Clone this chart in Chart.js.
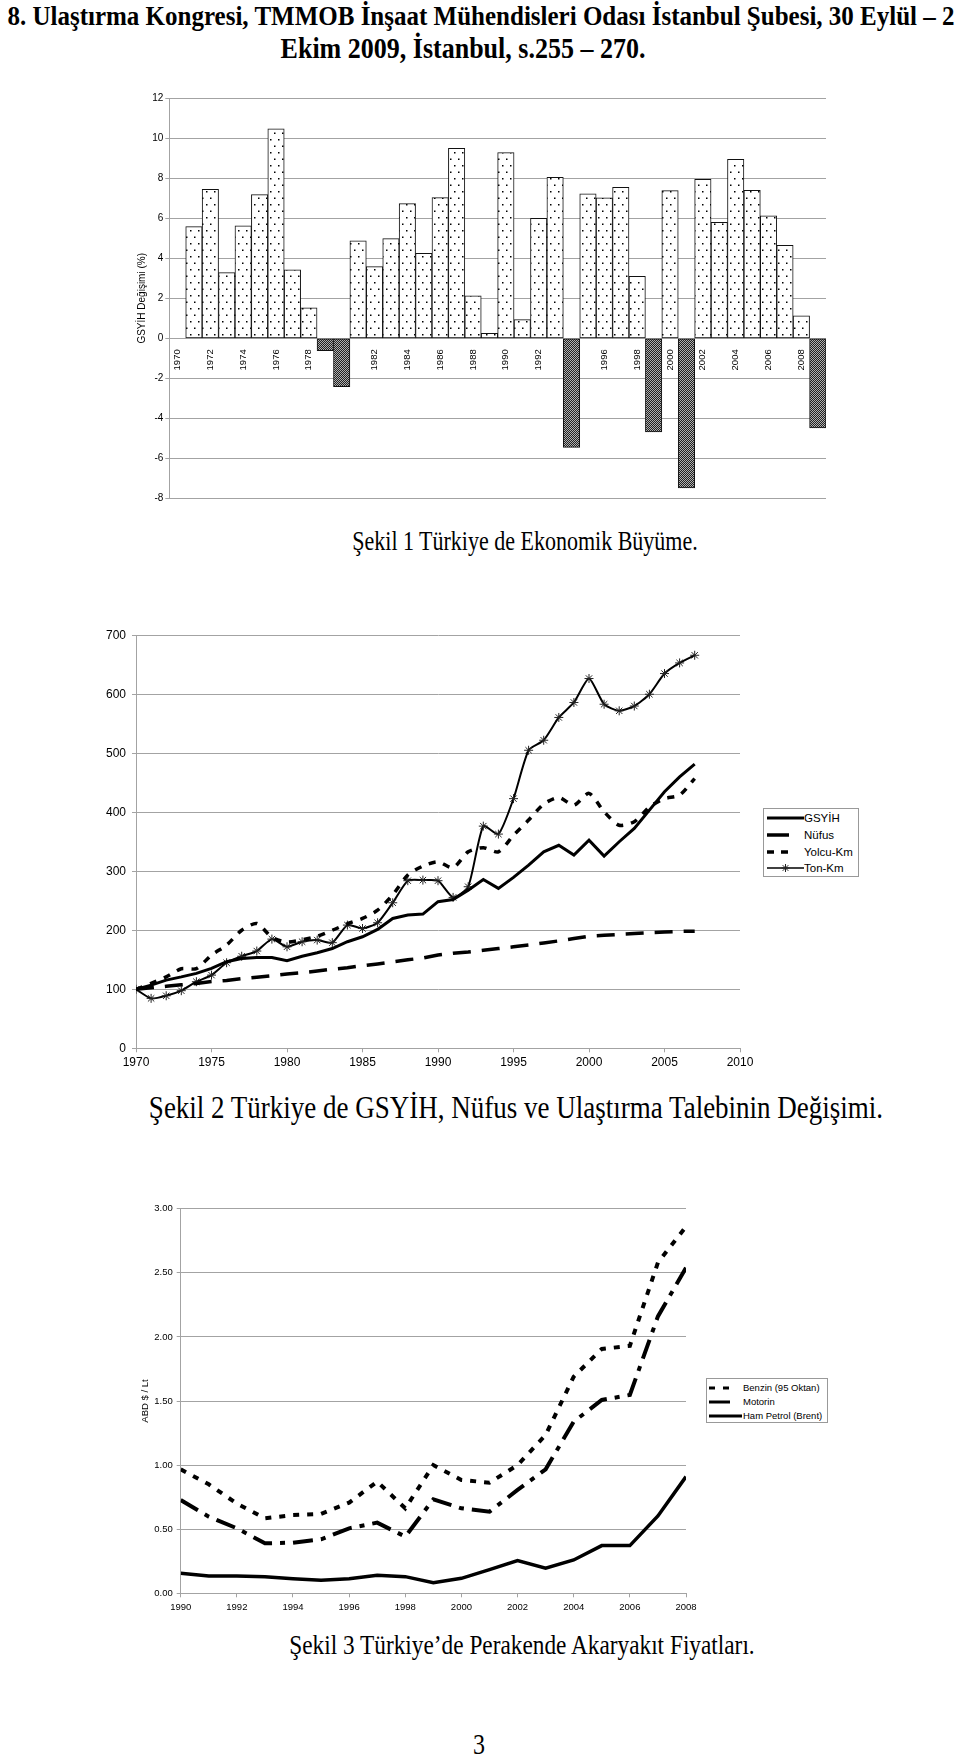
<!DOCTYPE html>
<html>
<head>
<meta charset="utf-8">
<script src="https://cdn.jsdelivr.net/npm/chart.js@4.4.1/dist/chart.umd.min.js"></script>
<style>
body { margin:0; width:960px; height:1761px; background:#fff; position:relative; overflow:hidden; font-family:"Liberation Sans", Arial, sans-serif; }
canvas { position:absolute; }
.serif { position:absolute; font-family:"Liberation Serif","Times New Roman",serif; white-space:nowrap; text-align:center; transform:scaleY(1.25); transform-origin:top; color:#000; font-size:22px; line-height:22px; width:1000px; }
.legend { position:absolute; border:1px solid #999; background:#fff; color:#000; }
.legend .row { position:absolute; left:0; white-space:nowrap; }
</style>
</head>
<body>
<div class="serif" style="left:-19px;top:1px;font-weight:bold;font-size:25px;line-height:25px;transform:scaleY(1.12)">8. Ulaştırma Kongresi, TMMOB İnşaat Mühendisleri Odası İstanbul Şubesi, 30 Eylül – 2</div>
<div class="serif" style="left:-37px;top:35px;font-weight:bold;font-size:26px;line-height:26px;transform:scaleY(1.1)">Ekim 2009, İstanbul, s.255 – 270.</div>

<canvas id="c1" width="740" height="425" style="left:100px;top:85px"></canvas>
<div class="serif" style="left:25px;top:527px">Şekil 1 Türkiye de Ekonomik Büyüme.</div>

<canvas id="c2" width="820" height="453" style="left:60px;top:622px"></canvas>
<div class="legend" id="leg2" style="left:763px;top:808px;width:94px;height:67px;font-size:11.5px"></div>
<div class="serif" style="left:16px;top:1093px;font-size:27px;line-height:27px;transform:scaleY(1.15)">Şekil 2 Türkiye de GSYİH, Nüfus ve Ulaştırma Talebinin Değişimi.</div>

<canvas id="c3" width="800" height="425" style="left:90px;top:1195px"></canvas>
<div class="legend" id="leg3" style="left:706px;top:1378px;width:120px;height:43px;font-size:9.5px"></div>
<div class="serif" style="left:22px;top:1631px;font-size:23.3px;line-height:23.3px;transform:scaleY(1.2)">Şekil 3 Türkiye’de Perakende Akaryakıt Fiyatları.</div>

<div class="serif" style="left:-21px;top:1729px;font-size:24px;line-height:24px">3</div>

<script>
// ---- Şekil 1: GSYİH değişimi (%) ----
const years1 = ['1970','1971','1972','1973','1974','1975','1976','1977','1978','1979',
  '1980','1981','1982','1983','1984','1985','1986','1987','1988','1989',
  '1990','1991','1992','1993','1994','1995','1996','1997','1998','1999',
  '2000','2001','2002','2003','2004','2005','2006','2007','2008','2009'];
const growth = [null, 5.58, 7.45, 3.28, 5.62, 7.18, 10.47, 3.42, 1.52, -0.62,
  -2.42, 4.87, 3.58, 4.98, 6.73, 4.25, 7.03, 9.5, 2.12, 0.25,
  9.28, 0.93, 6.0, 8.05, -5.45, 7.22, 7.02, 7.55, 3.1, -4.68,
  7.38, -7.48, 7.95, 5.8, 8.95, 7.4, 6.12, 4.65, 1.12, -4.48];

// ---- Şekil 2: endeks (1970 = 100) ----
const years2 = [1970,1971,1972,1973,1974,1975,1976,1977,1978,1979,
  1980,1981,1982,1983,1984,1985,1986,1987,1988,1989,
  1990,1991,1992,1993,1994,1995,1996,1997,1998,1999,
  2000,2001,2002,2003,2004,2005,2006,2007];
const gsyih = [100, 107, 115.6, 121, 127, 135.5, 146.7, 152, 154, 154,
  148.4, 156, 162, 169, 180.6, 189, 201.5, 220, 225.7, 227.5,
  248.4, 252, 268, 286, 271, 289.6, 310.5, 333, 344, 327.4,
  352.8, 325.7, 350, 372.6, 403.6, 434.7, 460, 481.5];
const nufus = [100, 102.5, 105, 107.5, 110, 113, 115, 118, 120.5, 123,
  126, 128, 131, 134, 136.5, 140, 143, 146.5, 150, 153,
  158, 161, 163, 166, 169, 172, 175, 178.5, 182, 186,
  190, 191.5, 193, 194.5, 196, 197, 198, 198.5];
const yolcuKm = [100, 110, 121, 134.8, 135, 158, 175, 200, 211.5, 188,
  180, 184, 190, 200, 211, 220, 234, 260, 293.6, 308.8,
  316, 306, 333, 340, 333, 361, 386.7, 413.8, 425, 412,
  432, 400.8, 378, 384, 409, 423, 429, 457];
const tonKm = [100, 84.6, 89, 97.6, 112.8, 124, 145, 156, 164.8, 185,
  172, 180.6, 183.4, 179, 208.8, 203, 212.7, 246.6, 284, 285,
  284, 255.7, 273.8, 376.5, 363, 423, 505, 522, 560.6, 586,
  626.6, 583, 571.9, 580, 600, 635, 653, 666];

// ---- Şekil 3: akaryakıt fiyatları (ABD $ / Lt) ----
const years3 = [1990,1991,1992,1993,1994,1995,1996,1997,1998,1999,
  2000,2001,2002,2003,2004,2005,2006,2007,2008];
const benzin = [0.967, 0.85, 0.70, 0.585, 0.61, 0.619, 0.707, 0.871, 0.663, 1.0,
  0.884, 0.863, 1.0, 1.235, 1.69, 1.906, 1.93, 2.58, 2.86];
const motorin = [0.728, 0.598, 0.507, 0.39, 0.395, 0.421, 0.507, 0.551, 0.442, 0.733,
  0.663, 0.637, 0.806, 0.967, 1.339, 1.508, 1.547, 2.16, 2.54];
const hamPetrol = [0.156, 0.135, 0.135, 0.13, 0.114, 0.101, 0.114, 0.14, 0.13, 0.083,
  0.117, 0.185, 0.255, 0.195, 0.26, 0.372, 0.372, 0.603, 0.91];

const FONT = '"Liberation Sans", Arial, sans-serif';
const GRID = '#a3a3a3';
Chart.defaults.font.family = FONT;
Chart.defaults.color = '#000';

// fill patterns for the bars
function makePattern(w, h, draw) {
  const c = document.createElement('canvas');
  c.width = w; c.height = h;
  const g = c.getContext('2d');
  draw(g);
  return g.createPattern(c, 'repeat');
}
const dots = makePattern(8, 13, g => {
  g.fillStyle = '#fff'; g.fillRect(0, 0, 8, 13);
  g.fillStyle = '#000';
  g.fillRect(2, 2, 1.5, 1.5);
  g.fillRect(6, 8.5, 1.5, 1.5);
});
const hatch = makePattern(2, 2, g => {
  g.fillStyle = '#b0b0b0'; g.fillRect(0, 0, 2, 2);
  g.fillStyle = '#222'; g.fillRect(0, 0, 1, 1); g.fillRect(1, 1, 1, 1);
});

const fixW = w => s => { s.width = w; };
const fixH = h => s => { s.height = h; };

new Chart(document.getElementById('c1'), {
  type: 'bar',
  data: {
    labels: years1,
    datasets: [{
      data: growth,
      backgroundColor: c => (c.raw < 0 ? hatch : dots),
      borderColor: '#111',
      borderWidth: 1,
      borderSkipped: false,
      barPercentage: 1,
      categoryPercentage: 1
    }]
  },
  options: {
    responsive: false,
    animation: false,
    layout: { padding: { top: 13.3, bottom: 11.7, right: 14, left: 0 } },
    plugins: { legend: { display: false }, tooltip: { enabled: false } },
    scales: {
      x: {
        position: { y: 0 },
        z: 1,
        grid: { display: false },
        border: { display: false },
        ticks: {
          autoSkip: false, minRotation: 90, maxRotation: 90, padding: 3,
          font: { size: 9.5 },
          callback: (v, i) => (i % 2 === 0 ? years1[i] : '')
        }
      },
      y: {
        min: -8, max: 12,
        afterFit: fixW(69.3),
        grid: { color: GRID, tickLength: 4 },
        border: { color: GRID },
        ticks: { stepSize: 2, font: { size: 10 }, padding: 2 },
        title: { display: true, text: 'GSYİH Değişimi (%)', font: { size: 10 }, padding: { top: 36, bottom: 0 } }
      }
    }
  }
});

const pts = (xs, ys) => xs.map((x, i) => ({ x: x, y: ys[i] }));
const lineBase = { fill: false, pointRadius: 0, borderColor: '#000', borderCapStyle: 'butt' };

new Chart(document.getElementById('c2'), {
  type: 'line',
  data: {
    datasets: [
      Object.assign({}, lineBase, { label: 'GSYİH', data: pts(years2, gsyih), borderWidth: 3, tension: 0 }),
      Object.assign({}, lineBase, { label: 'Nüfus', data: pts(years2, nufus), borderWidth: 3.5, borderDash: [18, 11], tension: 0 }),
      Object.assign({}, lineBase, { label: 'Yolcu-Km', data: pts(years2, yolcuKm), borderWidth: 3.5, borderDash: [7, 8], tension: 0.25 }),
      Object.assign({}, lineBase, { label: 'Ton-Km', data: pts(years2, tonKm), borderWidth: 2, tension: 0.2,
        pointStyle: 'star', pointRadius: 4.5, pointBorderColor: '#222', pointBorderWidth: 1 })
    ]
  },
  options: {
    responsive: false,
    animation: false,
    layout: { padding: { top: 13, right: 140, left: 0, bottom: 0 } },
    plugins: { legend: { display: false }, tooltip: { enabled: false } },
    scales: {
      x: {
        type: 'linear', min: 1970, max: 2010,
        afterFit: fixH(26.7),
        grid: { drawOnChartArea: false, color: GRID, tickLength: 4 },
        border: { color: GRID },
        ticks: { stepSize: 5, font: { size: 12 }, padding: 3, callback: v => String(v) }
      },
      y: {
        min: 0, max: 700,
        afterFit: fixW(76),
        grid: { color: GRID, tickLength: 4 },
        border: { color: GRID },
        ticks: { stepSize: 100, font: { size: 12 }, padding: 6 }
      }
    }
  }
});

new Chart(document.getElementById('c3'), {
  type: 'line',
  data: {
    datasets: [
      Object.assign({}, lineBase, { label: 'Benzin (95 Oktan)', data: pts(years3, benzin), borderWidth: 4, borderDash: [6, 8], tension: 0 }),
      Object.assign({}, lineBase, { label: 'Motorin', data: pts(years3, motorin), borderWidth: 4, borderDash: [20, 8, 5, 8], tension: 0 }),
      Object.assign({}, lineBase, { label: 'Ham Petrol (Brent)', data: pts(years3, hamPetrol), borderWidth: 3.5, tension: 0 })
    ]
  },
  options: {
    responsive: false,
    animation: false,
    layout: { padding: { top: 13.7, right: 204, left: 0, bottom: 0 } },
    plugins: { legend: { display: false }, tooltip: { enabled: false } },
    scales: {
      x: {
        type: 'linear', min: 1990, max: 2008,
        afterFit: fixH(26.7),
        grid: { drawOnChartArea: false, color: GRID, tickLength: 4 },
        border: { color: GRID },
        ticks: { stepSize: 2, font: { size: 9.5 }, padding: 4, callback: v => String(v) }
      },
      y: {
        min: 0, max: 3,
        afterFit: fixW(90.7),
        grid: { color: GRID, tickLength: 4 },
        border: { color: GRID },
        ticks: { stepSize: 0.5, font: { size: 9.5 }, padding: 4, callback: v => v.toFixed(2) },
        title: { display: true, text: 'ABD $ / Lt', font: { size: 9.5 }, padding: { top: 50, bottom: 0 } }
      }
    }
  }
});

// legends drawn as html boxes
function sample(w, h, x1, x2, lw, dash, star) {
  const m = h / 2;
  let s = '<svg width="' + w + '" height="' + h + '" style="position:absolute;left:0;top:0">' +
    '<line x1="' + x1 + '" y1="' + m + '" x2="' + x2 + '" y2="' + m + '" stroke="#000" stroke-width="' + lw + '"' +
    (dash ? ' stroke-dasharray="' + dash + '"' : '') + '/>';
  if (star) {
    const c = (x1 + x2) / 2, r = 4, d = 2.8;
    s += '<path d="M' + (c - r) + ' ' + m + 'H' + (c + r) + 'M' + c + ' ' + (m - r) + 'V' + (m + r) +
      'M' + (c - d) + ' ' + (m - d) + 'L' + (c + d) + ' ' + (m + d) + 'M' + (c - d) + ' ' + (m + d) + 'L' + (c + d) + ' ' + (m - d) +
      '" stroke="#222" stroke-width="1"/>';
  }
  return s + '</svg>';
}
function buildLegend(id, rows, h, textLeft) {
  const box = document.getElementById(id);
  rows.forEach(r => {
    const d = document.createElement('div');
    d.className = 'row';
    d.style.top = (r.cy - h / 2) + 'px';
    d.style.height = h + 'px';
    d.innerHTML = sample(textLeft, h, r.x1, r.x2, r.lw, r.dash, r.star) +
      '<span style="position:absolute;left:' + textLeft + 'px;top:0;line-height:' + h + 'px">' + r.name + '</span>';
    box.appendChild(d);
  });
}
buildLegend('leg2', [
  { name: 'GSYİH', cy: 8.5, x1: 3, x2: 40, lw: 3 },
  { name: 'Nüfus', cy: 25.5, x1: 3, x2: 25, lw: 3.5 },
  { name: 'Yolcu-Km', cy: 42.5, x1: 3, x2: 24, lw: 3.5, dash: '7 7' },
  { name: 'Ton-Km', cy: 58.5, x1: 3, x2: 40, lw: 1.5, star: true }
], 16, 40);
buildLegend('leg3', [
  { name: 'Benzin (95 Oktan)', cy: 8.5, x1: 2, x2: 28, lw: 3, dash: '6 8' },
  { name: 'Motorin', cy: 22.5, x1: 2, x2: 23, lw: 3 },
  { name: 'Ham Petrol (Brent)', cy: 37, x1: 2, x2: 35, lw: 3 }
], 14, 36);
</script>
</body>
</html>
